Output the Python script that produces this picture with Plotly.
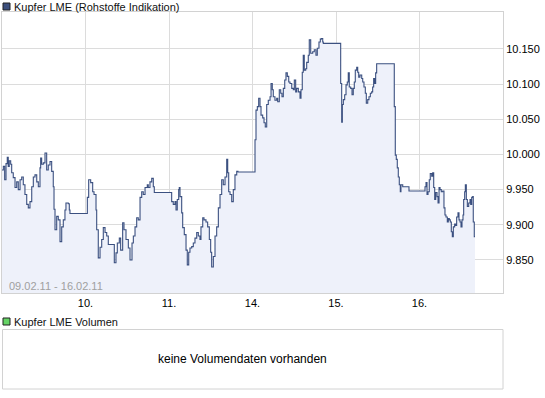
import plotly.graph_objects as go

# ---- data ----
series_name = "Kupfer LME (Rohstoffe Indikation)"
volume_name = "Kupfer LME Volumen"
volume_note = "keine Volumendaten vorhanden"
date_range = "09.02.11 - 16.02.11"
trading_days = ["09.02.", "10.02.", "11.02.", "14.02.", "15.02.", "16.02."]
x_tick_pos = [1, 2, 3, 4, 5]
x_tick_labels = ["10.", "11.", "14.", "15.", "16."]
y_tick_values = [9.85, 9.90, 9.95, 10.00, 10.05, 10.10, 10.15]
y_tick_labels = ["9.850", "9.900", "9.950", "10.000", "10.050", "10.100", "10.150"]

# time in trading days since 09.02. 00:00 (weekend removed)
t = [
    0.000, 0.016, 0.032, 0.048, 0.063, 0.075, 0.087, 0.104, 0.116, 0.135,
    0.156, 0.176, 0.195, 0.216, 0.236, 0.255, 0.275, 0.296, 0.315, 0.335,
    0.356, 0.375, 0.395, 0.416, 0.435, 0.455, 0.463, 0.475, 0.495, 0.515,
    0.535, 0.554, 0.575, 0.595, 0.614, 0.623, 0.635, 0.655, 0.674, 0.695,
    0.715, 0.734, 0.754, 0.766, 0.794, 0.806, 0.814,
    1.022, 1.038, 1.062, 1.086, 1.102, 1.126, 1.134, 1.153, 1.174, 1.194,
    1.213, 1.234, 1.254, 1.273, 1.345, 1.365, 1.381, 1.405, 1.421, 1.445,
    1.461, 1.485, 1.513, 1.533, 1.557, 1.573, 1.593, 1.613, 1.632, 1.653,
    1.673, 1.692, 1.713, 1.740, 1.752, 1.772, 1.793, 1.812, 1.824,
    2.032, 2.051, 2.072, 2.084, 2.099, 2.116, 2.123, 2.132, 2.152, 2.164,
    2.183, 2.204, 2.219, 2.236, 2.251, 2.272, 2.291, 2.311, 2.332, 2.351,
    2.371, 2.383, 2.404, 2.419, 2.443, 2.463, 2.483, 2.499, 2.511, 2.531,
    2.551, 2.571, 2.591, 2.611, 2.631, 2.650, 2.671, 2.691, 2.703, 2.715,
    2.731, 2.751, 2.770, 2.790, 2.811, 2.826,
    3.030, 3.042, 3.058, 3.074, 3.090, 3.102, 3.122, 3.138, 3.153, 3.170,
    3.189, 3.210, 3.222, 3.237, 3.249, 3.269, 3.290, 3.302, 3.321, 3.338,
    3.353, 3.369, 3.386, 3.401, 3.417, 3.434, 3.449, 3.470, 3.489, 3.501,
    3.517, 3.529, 3.549, 3.569, 3.581, 3.596, 3.608, 3.620, 3.637, 3.649,
    3.668, 3.680, 3.697, 3.721, 3.740, 3.760, 3.776, 3.796, 3.812, 3.824,
    3.841, 3.848,
    4.056, 4.068, 4.076, 4.088, 4.104, 4.120, 4.135, 4.147, 4.159, 4.176,
    4.192, 4.207, 4.219, 4.231, 4.248, 4.260, 4.272, 4.287, 4.308, 4.320,
    4.335, 4.351, 4.363, 4.380, 4.395, 4.411, 4.427, 4.439, 4.451, 4.463,
    4.475, 4.487, 4.698, 4.710, 4.722, 4.734, 4.746, 4.758, 4.770, 4.778,
    4.799, 4.874,
    5.066, 5.078, 5.090, 5.102, 5.117, 5.129, 5.146, 5.158, 5.170, 5.182,
    5.194, 5.210, 5.222, 5.234, 5.246, 5.261, 5.278, 5.293, 5.305, 5.317,
    5.333, 5.345, 5.357, 5.369, 5.381, 5.393, 5.405, 5.421, 5.433, 5.445,
    5.461, 5.473, 5.485, 5.497, 5.509, 5.521, 5.529, 5.541, 5.549, 5.561,
    5.573, 5.589, 5.605, 5.613, 5.625, 5.637, 5.644, 5.656, 5.665,
]
price = [
    9.978, 9.983, 9.964, 9.987, 9.996, 9.983, 9.991, 9.986, 9.974, 9.967,
    9.953, 9.961, 9.950, 9.964, 9.968, 9.957, 9.943, 9.929, 9.924, 9.933,
    9.954, 9.968, 9.971, 9.961, 9.954, 9.981, 9.995, 9.986, 9.988, 10.002,
    9.978, 9.985, 9.990, 9.976, 9.954, 9.922, 9.893, 9.912, 9.907, 9.876,
    9.897, 9.907, 9.921, 9.931, 9.930, 9.921, 9.916,
    9.939, 9.964, 9.960, 9.947, 9.943, 9.921, 9.893, 9.853, 9.868, 9.879,
    9.896, 9.889, 9.884, 9.872, 9.846, 9.860, 9.874, 9.881, 9.864, 9.903,
    9.893, 9.879, 9.867, 9.850, 9.874, 9.884, 9.897, 9.910, 9.907, 9.939,
    9.947, 9.943, 9.953, 9.957, 9.953, 9.961, 9.966, 9.954, 9.946,
    9.933, 9.929, 9.933, 9.921, 9.936, 9.950, 9.953, 9.940, 9.917, 9.896,
    9.886, 9.864, 9.843, 9.861, 9.867, 9.869, 9.874, 9.881, 9.889, 9.884,
    9.879, 9.897, 9.910, 9.907, 9.904, 9.897, 9.879, 9.861, 9.840, 9.855,
    9.884, 9.897, 9.924, 9.943, 9.964, 9.957, 9.968, 9.993, 9.974, 9.947,
    9.943, 9.933, 9.950, 9.971, 9.976, 9.975,
    10.021, 10.063, 10.068, 10.080, 10.068, 10.056, 10.052, 10.045, 10.039, 10.071,
    10.077, 10.082, 10.101, 10.092, 10.082, 10.077, 10.080, 10.075, 10.092, 10.087,
    10.082, 10.094, 10.106, 10.116, 10.111, 10.103, 10.101, 10.094, 10.092, 10.106,
    10.089, 10.094, 10.089, 10.080, 10.092, 10.117, 10.141, 10.120, 10.122, 10.131,
    10.141, 10.163, 10.144, 10.146, 10.149, 10.141, 10.151, 10.160, 10.164, 10.165,
    10.160, 10.158,
    10.101, 10.046, 10.071, 10.078, 10.085, 10.099, 10.103, 10.116, 10.096, 10.094,
    10.085, 10.094, 10.103, 10.120, 10.124, 10.117, 10.110, 10.113, 10.108, 10.103,
    10.096, 10.087, 10.073, 10.078, 10.082, 10.087, 10.089, 10.096, 10.108, 10.101,
    10.116, 10.129, 10.068, 9.999, 9.993, 9.981, 9.968, 9.957, 9.947, 9.957,
    9.954, 9.948,
    9.954, 9.960, 9.943, 9.947, 9.964, 9.973, 9.969, 9.974, 9.953, 9.936,
    9.946, 9.940, 9.931, 9.953, 9.950, 9.947, 9.948, 9.924, 9.914, 9.911,
    9.904, 9.909, 9.907, 9.904, 9.890, 9.883, 9.897, 9.901, 9.899, 9.911,
    9.917, 9.907, 9.904, 9.897, 9.907, 9.914, 9.936, 9.947, 9.957, 9.936,
    9.926, 9.931, 9.936, 9.929, 9.939, 9.940, 9.904, 9.883, 9.883,
]

# ---- layout helpers ----
W, H = 545, 398
def px(x):
    return x / W
def py(y):
    return 1 - y / H

FONT = "Liberation Sans, Arial, sans-serif"
LINE = "#3b5080"
FILL = "#eef1fa"
GRID = "#dcdcdc"
BORDER = "#d2d2d2"

fig = go.Figure()
fig.add_trace(go.Scatter(
    x=t, y=price, mode="lines", line=dict(color=LINE, width=1.1, shape="hv"),
    fill="tozeroy", fillcolor=FILL, hoverinfo="x+y", showlegend=False,
))

fig.update_layout(
    width=W, height=H, margin=dict(l=0, r=0, t=0, b=0, autoexpand=False),
    paper_bgcolor="white", plot_bgcolor="white",
    font=dict(family=FONT, size=11, color="#000000"),
    xaxis=dict(
        domain=[px(2), px(503)], range=[0, 6], automargin=False,
        tickvals=x_tick_pos, ticktext=x_tick_labels,
        showgrid=True, gridcolor=GRID, gridwidth=1,
        showline=True, linecolor=BORDER, mirror=True,
        zeroline=False, ticks="", tickfont=dict(size=11, color="#000"),
        fixedrange=True,
    ),
    yaxis=dict(
        domain=[py(293), py(12)], range=[9.803, 10.2026], automargin=False,
        side="right", tickvals=y_tick_values, ticktext=y_tick_labels,
        showgrid=True, gridcolor=GRID, gridwidth=1,
        showline=True, linecolor=BORDER, mirror=True,
        zeroline=False, ticks="", tickfont=dict(size=11, color="#000"),
        fixedrange=True,
    ),
)

shapes = []
annotations = []
# legend square top
shapes.append(dict(type="rect", xref="paper", yref="paper",
                   x0=px(3), x1=px(10), y0=py(10), y1=py(3),
                   fillcolor="#3c4f7d", line=dict(color="#222", width=1)))
annotations.append(dict(text=series_name, xref="paper", yref="paper",
                        x=px(12), y=py(6.5), xanchor="left", yanchor="middle",
                        showarrow=False, font=dict(size=11, color="#111")))
# date range inside plot
annotations.append(dict(text=date_range, xref="paper", yref="paper",
                        x=px(7), y=py(286), xanchor="left", yanchor="middle",
                        showarrow=False, font=dict(size=11, color="#a0a0a0")))
# volume legend
shapes.append(dict(type="rect", xref="paper", yref="paper",
                   x0=px(3), x1=px(10), y0=py(325), y1=py(318),
                   fillcolor="#66d466", line=dict(color="#222", width=1)))
annotations.append(dict(text=volume_name, xref="paper", yref="paper",
                        x=px(12), y=py(321.5), xanchor="left", yanchor="middle",
                        showarrow=False, font=dict(size=11, color="#111")))
# volume box
shapes.append(dict(type="rect", xref="paper", yref="paper",
                   x0=px(2.5), x1=px(503), y0=py(389), y1=py(329.5),
                   fillcolor="rgba(0,0,0,0)", line=dict(color=BORDER, width=1)))
annotations.append(dict(text=volume_note, xref="paper", yref="paper",
                        x=px(242), y=py(359), xanchor="center", yanchor="middle",
                        showarrow=False, font=dict(size=12, color="#000")))

fig.update_layout(shapes=shapes, annotations=annotations)
fig.write_html(
    "out.html",
    config={"displayModeBar": False},
    post_script="document.body.style.margin='0';document.body.style.overflow='hidden';",
)
